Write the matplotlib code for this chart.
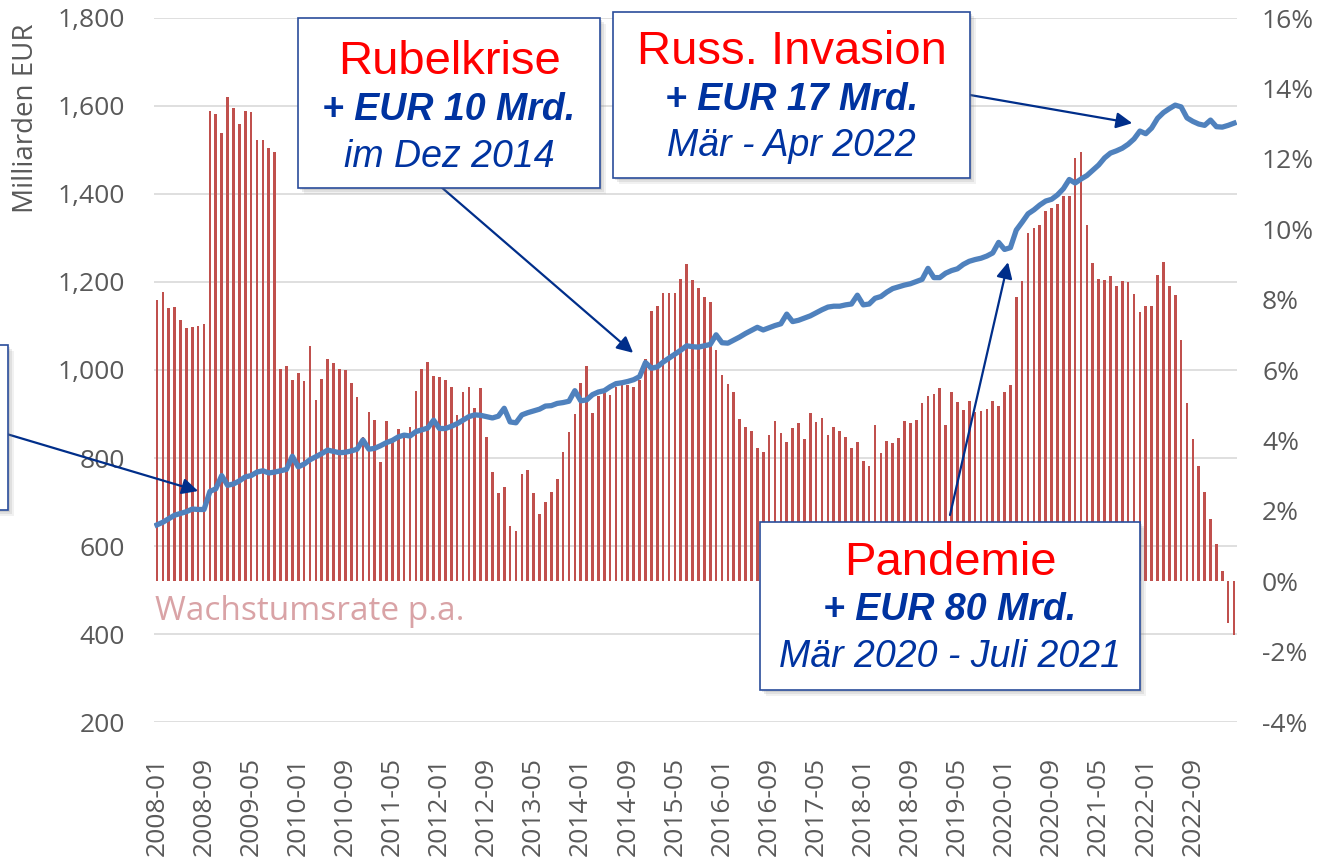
#!/usr/bin/env python3
"""
Bargeldumlauf (Milliarden EUR) und Wachstumsrate p.a., 2008-01 bis 2023-04.
"""

import numpy as np
import pandas as pd
import matplotlib
matplotlib.use('Agg')
import matplotlib.pyplot as plt
from matplotlib.patches import Rectangle
from matplotlib.ticker import FuncFormatter

W, H = 1324, 868

# monthly categories
months = pd.period_range('2008-01', '2023-04', freq='M').strftime('%Y-%m').tolist()

# growth rate p.a. in % (right axis)
growth = [
    7.98, 8.23, 7.75, 7.78, 7.41, 7.20, 7.21, 7.24, 7.31, 13.35, 13.27, 12.73,
    13.76, 13.44, 12.99, 13.35, 13.32, 12.54, 12.54, 12.32, 12.20, 6.03, 6.12, 5.73,
    5.92, 5.70, 6.69, 5.16, 5.75, 6.31, 6.19, 6.03, 6.00, 5.62, 5.22, 4.11,
    4.82, 4.57, 3.38, 4.54, 4.00, 4.31, 4.20, 4.38, 5.41, 6.04, 6.23, 5.82,
    5.79, 5.72, 5.53, 4.73, 5.37, 5.51, 4.92, 5.48, 4.10, 3.10, 2.50, 2.69,
    1.57, 1.44, 3.04, 3.16, 2.50, 1.92, 2.25, 2.53, 2.91, 3.66, 4.23, 4.76,
    5.63, 6.10, 4.78, 5.27, 5.34, 5.29, 5.53, 5.63, 5.56, 5.51, 5.72, 6.32,
    7.68, 7.81, 8.20, 8.18, 8.18, 8.59, 9.01, 8.56, 8.33, 8.06, 7.92, 6.57,
    5.85, 5.60, 5.37, 4.61, 4.37, 4.28, 3.78, 3.67, 4.16, 4.54, 4.21, 3.95,
    4.34, 4.49, 4.04, 4.78, 4.51, 4.63, 4.16, 4.38, 4.28, 4.09, 3.78, 3.95,
    3.42, 3.26, 4.44, 3.64, 3.98, 3.92, 4.07, 4.54, 4.49, 4.57, 5.06, 5.25,
    5.33, 5.48, 4.44, 5.37, 5.08, 4.86, 5.11, 4.80, 4.83, 4.89, 5.11, 4.99,
    5.38, 5.58, 8.07, 8.52, 9.88, 10.03, 10.13, 10.51, 10.60, 10.72, 10.95, 10.95,
    12.02, 12.18, 10.12, 9.03, 8.59, 8.57, 8.66, 8.38, 8.54, 8.51, 8.17, 7.64,
    7.82, 7.82, 8.69, 9.07, 8.38, 8.13, 6.86, 5.06, 4.03, 3.27, 2.53, 1.77,
    1.07, 0.28, -1.19, -1.52,
]

# currency in circulation, Milliarden EUR (left axis)
volume = [
    648, 654, 662, 670, 674, 678, 684, 683, 683, 724, 730, 760,
    738, 741, 748, 757, 760, 768, 771, 766, 768, 771, 774, 804,
    780, 786, 796, 803, 810, 818, 815, 812, 813, 816, 820, 841,
    820, 822, 828, 835, 840, 848, 852, 850, 860, 864, 868, 886,
    867, 867, 872, 878, 886, 894, 898, 897, 894, 891, 895, 913,
    882, 880, 898, 903, 907, 911, 918, 919, 924, 926, 929, 953,
    930, 932, 944, 950, 953, 962, 969, 971, 974, 978, 985, 1017,
    1004, 1007, 1018, 1027, 1036, 1045, 1055, 1053, 1052, 1055, 1058, 1080,
    1062, 1061, 1068, 1075, 1083, 1090, 1097, 1091, 1096, 1101, 1105, 1127,
    1110, 1113, 1118, 1123, 1130, 1137, 1143, 1145, 1145, 1148, 1150, 1170,
    1148, 1150, 1163, 1167, 1177, 1185, 1189, 1193, 1196, 1201, 1206, 1231,
    1210, 1210, 1220, 1226, 1230, 1240, 1247, 1251, 1254, 1259, 1266, 1290,
    1274, 1278, 1318, 1336, 1355, 1364, 1375, 1384, 1388, 1398, 1412, 1433,
    1425, 1434, 1442, 1454, 1466, 1482, 1493, 1498, 1504, 1513, 1525, 1543,
    1537, 1550, 1572, 1585, 1594, 1602, 1598, 1573, 1565, 1559, 1556, 1568,
    1553, 1552, 1556, 1561,
]

left_ticks = [200, 400, 600, 800, 1000, 1200, 1400, 1600, 1800]
right_ticks = [-4, -2, 0, 2, 4, 6, 8, 10, 12, 14, 16]
label_step = 8

TICK_COLOR = '#595959'
BAR_COLOR = '#C0504D'
LINE_COLOR = '#4F81BD'
NAVY = '#002E8A'
BOX_EDGE = '#2A4D9B'

plt.rcParams['font.family'] = ['Open Sans', 'DejaVu Sans']


def fx(x):
    return x / W


def fy(y):
    return 1 - y / H


def info_box(fig, x0, y0, x1, y1, lines):
    """Draw an Excel-like callout box with shadow and three text lines (pixel coords)."""
    for off, alpha in [(6, 0.10), (4, 0.15), (2, 0.2)]:
        fig.add_artist(Rectangle((fx(x0 + off), fy(y1 + off)), fx(x1 - x0), (y1 - y0) / H,
                                 transform=fig.transFigure, facecolor='#7F7F7F',
                                 edgecolor='none', alpha=alpha, zorder=5))
    fig.add_artist(Rectangle((fx(x0), fy(y1)), fx(x1 - x0), (y1 - y0) / H,
                             transform=fig.transFigure, facecolor='white',
                             edgecolor=BOX_EDGE, lw=1.2, zorder=6))
    xc = (x0 + x1) / 2
    for text, ypos, style in lines:
        fig.text(fx(xc), fy(ypos), text, ha='center', va='center', zorder=7,
                 family=['Liberation Sans', 'DejaVu Sans'], **style)


title_style = dict(color='#FF0000', fontsize=34)
amount_style = dict(color='#0033A0', fontsize=27, fontweight='bold', fontstyle='italic')
date_style = dict(color='#0033A0', fontsize=27, fontstyle='italic')


def main():
    x = np.arange(len(months))

    fig = plt.figure(figsize=(W / 100, H / 100), dpi=100)
    ax = fig.add_axes([fx(154), fy(722), fx(1237 - 154), (722 - 18) / H])

    # left axis: gridlines and labels
    ax.set_xlim(-0.5, len(months) - 0.5)
    ax.set_ylim(200, 1800)
    ax.set_yticks(left_ticks)
    ax.yaxis.set_major_formatter(FuncFormatter(lambda v, p: f'{v:,.0f}'))
    ax.grid(axis='y', color='#D9D9D9', lw=1.2)
    ax.set_axisbelow(True)
    ax.set_xticks(x[::label_step])
    ax.set_xticklabels(months[::label_step], rotation=90)
    ax.tick_params(axis='x', length=0, pad=25, labelsize=19, labelcolor=TICK_COLOR)
    ax.tick_params(axis='y', length=0, pad=21, labelsize=19, labelcolor=TICK_COLOR)
    ax.set_ylabel('Milliarden EUR', fontsize=20, color=TICK_COLOR)
    ax.yaxis.set_label_coords(-0.105, 0.857)
    for s in ax.spines.values():
        s.set_visible(False)

    # right axis: growth rate bars
    ax2 = ax.twinx()
    ax2.bar(x, growth, width=0.45, color=BAR_COLOR, zorder=2)
    ax2.set_ylim(-4, 16)
    ax2.set_yticks(right_ticks)
    ax2.yaxis.set_major_formatter(FuncFormatter(lambda v, p: f'{v:.0f}%'))
    ax2.tick_params(axis='y', length=0, pad=18, labelsize=19, labelcolor=TICK_COLOR)
    for s in ax2.spines.values():
        s.set_visible(False)

    # third layer: the volume line on top of the bars
    ax3 = ax.twinx()
    ax3.set_ylim(200, 1800)
    ax3.plot(x, volume, color=LINE_COLOR, lw=3.8, solid_joinstyle='round', zorder=3)
    ax3.yaxis.set_visible(False)
    for s in ax3.spines.values():
        s.set_visible(False)

    fig.text(fx(155), fy(612), 'Wachstumsrate p.a.', ha='left', va='center',
             fontsize=24, color='#D9A3A6')

    # arrows from callouts to the line
    arrow = dict(arrowstyle='-|>', color=NAVY, lw=1.6, mutation_scale=24,
                 shrinkA=0, shrinkB=0)
    for tip, tail in [((80.9, 1039), (440, 186)),
                      ((165.7, 1561), (970, 95)),
                      ((144.6, 1245), (950, 515)),
                      ((7.0, 725), (0, 432))]:
        ax3.annotate('', xy=tip, xycoords='data', xytext=(fx(tail[0]), fy(tail[1])),
                     textcoords='figure fraction', arrowprops=arrow,
                     annotation_clip=False)

    info_box(fig, 298, 18, 600, 188, [
        ('Rubelkrise', 62, title_style),
        ('+ EUR 10 Mrd.', 110, amount_style),
        ('im Dez 2014', 157, date_style),
    ])
    info_box(fig, 613, 12, 970, 178, [
        ('Russ. Invasion', 52, title_style),
        ('+ EUR 17 Mrd.', 100, amount_style),
        ('Mär - Apr 2022', 146, date_style),
    ])
    info_box(fig, 760, 522, 1140, 690, [
        ('Pandemie', 563, title_style),
        ('+ EUR 80 Mrd.', 610, amount_style),
        ('Mär 2020 - Juli 2021', 657, date_style),
    ])
    # box cut off at the left edge
    info_box(fig, -300, 345, 8, 510, [])

    fig.savefig('out.png', dpi=100)


if __name__ == "__main__":
    main()
